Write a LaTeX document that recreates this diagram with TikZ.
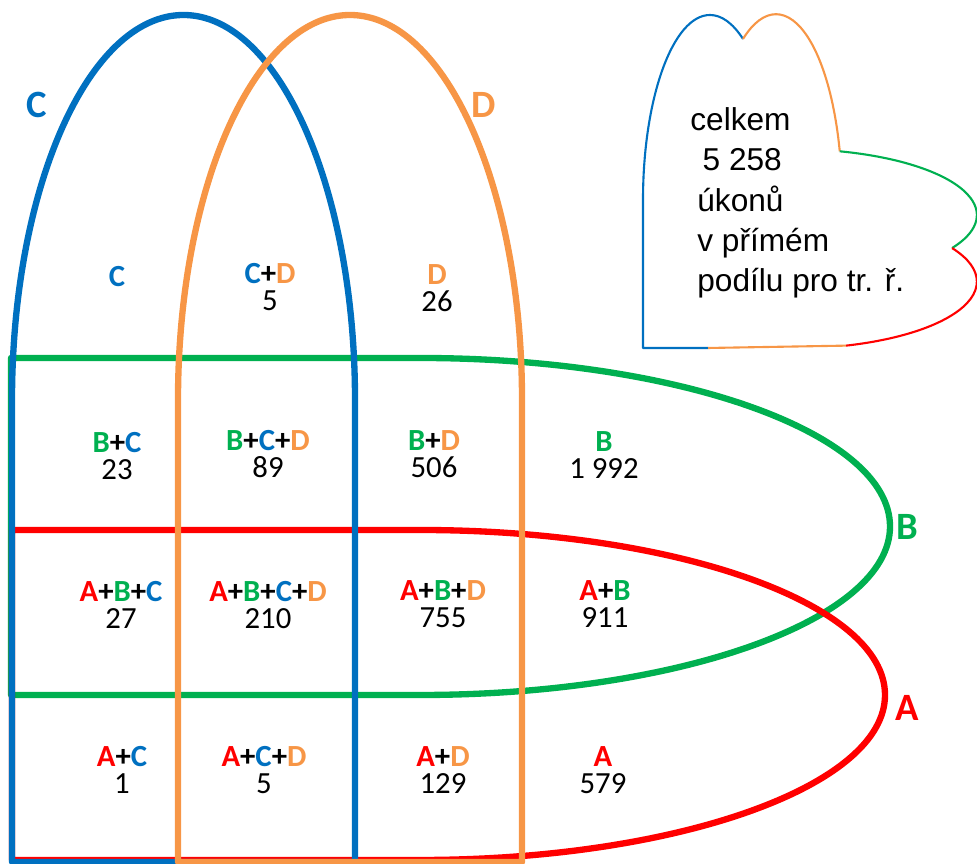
\documentclass[tikz,border=0pt]{standalone}
\usepackage{fontspec}
\setmainfont{Carlito}
\newfontfamily\notefont{Liberation Sans}
\usepackage{xcolor}
\usepackage{tikz}
\usetikzlibrary{positioning}
\definecolor{setA}{RGB}{255,0,0}
\definecolor{setB}{RGB}{0,176,80}
\definecolor{setC}{RGB}{0,112,192}
\definecolor{setD}{RGB}{247,150,70}
\newcommand{\ltrA}{\textcolor{setA}{A}}
\newcommand{\ltrB}{\textcolor{setB}{B}}
\newcommand{\ltrC}{\textcolor{setC}{C}}
\newcommand{\ltrD}{\textcolor{setD}{D}}

\begin{document}
\begin{tikzpicture}[
    x=0.02cm, y=0.02cm,
    setline/.style={line width=3.6pt, line join=round},
    heartline/.style={line width=1.2pt, line join=round},
    cell/.style={align=center, inner sep=0pt,
                 font=\fontsize{17.5}{15}\selectfont},
    setname/.style={inner sep=0pt, font=\fontsize{22}{24}\selectfont\bfseries},
    note/.style={align=left, inner sep=0pt,
                 font=\notefont\fontsize{18}{23}\selectfont},
]

% ── Frame ──────────────────────────────────────────────────────────────
\useasboundingbox (0,0) rectangle (977,864);
\clip (0,0) rectangle (977,864);

% ── Sets B and A (lying ovals) ─────────────────────────────────────────
\draw[setline, setB] (11,169) -- (11,506) -- (420,506)
      arc[start angle=90, end angle=-90, x radius=470, y radius=168.5] -- cycle;
\draw[setline, setA] (12,4) -- (12,334) -- (420,334)
      arc[start angle=90, end angle=-90, x radius=465, y radius=165] -- cycle;

% ── Sets C and D (standing arches) ─────────────────────────────────────
\draw[setline, setC] (12,2) -- (12,464)
      arc[start angle=180, end angle=0, x radius=171.5, y radius=385] -- (355,2) -- cycle;
\draw[setline, setD] (178,2) -- (178,464)
      arc[start angle=180, end angle=0, x radius=172, y radius=385] -- (522,2) -- cycle;

% ── Set names ──────────────────────────────────────────────────────────
\node[setname, setC] (nameC) at (37,759) {C};
\node[setname, setD] (nameD) at (484,759) {D};
\node[setname, setB] (nameB) at (907,337) {B};
\node[setname, setA] (nameA) at (907,156) {A};

% ── Row: C, D only ─────────────────────────────────────────────────────
\node[cell] (cC)    at (117,587) {\textbf{\ltrC}};
\node[cell] (cCD)   at (270,577) {\textbf{\ltrC+\ltrD}\\5};
\node[cell] (cD)    at (437,576) {\textbf{\ltrD}\\26};

% ── Row: B ─────────────────────────────────────────────────────────────
\node[cell] (cBC)   at (117,408) {\textbf{\ltrB+\ltrC}\\23};
\node[cell] (cBCD)  at (268,410) {\textbf{\ltrB+\ltrC+\ltrD}\\89};
\node[cell] (cBD)   at (434,410) {\textbf{\ltrB+\ltrD}\\506};
\node[cell] (cB)    at (604,409) {\textbf{\ltrB}\\1 992};

% ── Row: A and B ───────────────────────────────────────────────────────
\node[cell] (cABC)  at (121,259) {\textbf{\ltrA+\ltrB+\ltrC}\\27};
\node[cell] (cABCD) at (268,259) {\textbf{\ltrA+\ltrB+\ltrC+\ltrD}\\210};
\node[cell] (cABD)  at (443,260) {\textbf{\ltrA+\ltrB+\ltrD}\\755};
\node[cell] (cAB)   at (605,260) {\textbf{\ltrA+\ltrB}\\911};

% ── Row: A ─────────────────────────────────────────────────────────────
\node[cell] (cAC)   at (122,94) {\textbf{\ltrA+\ltrC}\\1};
\node[cell] (cACD)  at (264,94) {\textbf{\ltrA+\ltrC+\ltrD}\\5};
\node[cell] (cAD)   at (443,94) {\textbf{\ltrA+\ltrD}\\129};
\node[cell] (cA)    at (603,94) {\textbf{\ltrA}\\579};

% ── Four-lobed heart with the total ────────────────────────────────────
\draw[heartline, setC] (708,516) -- (643,516) -- (643,664)
      arc[start angle=180, end angle=60.5, x radius=67, y radius=185]
      coordinate (notchCD);
\draw[heartline, setD] (notchCD)
      arc[start angle=120, end angle=15, x radius=66, y radius=185]
      coordinate (cornerDB);
\draw[heartline, setB] (cornerDB)
      arc[start angle=75, end angle=-30, x radius=185, y radius=66]
      coordinate (notchBA);
\draw[heartline, setA] (notchBA)
      arc[start angle=30, end angle=-73, x radius=185, y radius=67]
      coordinate (cornerAD);
\draw[heartline, setD] (cornerAD) -- (708,516);

% base anchor sits on the last line
\node[note, anchor=base west] (total) at (690,572)
      {celkem\\
       \hspace*{7pt}5 258\\
       \hspace*{4pt}úkonů\\
       \hspace*{4pt}v přímém\\
       \hspace*{4pt}podílu pro tr. ř.};

\end{tikzpicture}
\end{document}
